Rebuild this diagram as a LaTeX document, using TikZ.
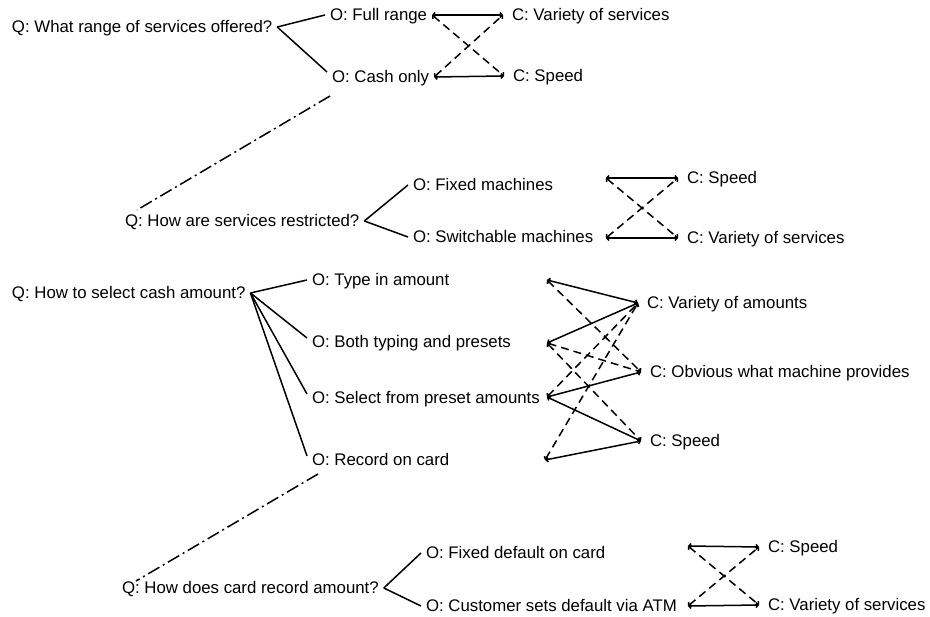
\documentclass[tikz,border=0pt]{standalone}
\usepackage{fontspec}
\setmainfont{Liberation Sans}
\usetikzlibrary{arrows.meta}

\begin{document}
\begin{tikzpicture}[x=1pt, y=-1pt,
  txt/.style={anchor=west, inner sep=3pt, outer sep=2pt, text height=12pt, text depth=0pt, font=\fontsize{16.8pt}{19pt}\selectfont},
  crit/.style={txt, outer sep=6pt},
  branch/.style={line width=1.5pt},
  follow/.style={line width=1.5pt, dash pattern=on 13pt off 4pt on 2pt off 4pt},
  plus/.style={line width=1.5pt, {Straight Barb[length=2pt,width=5pt]}-{Straight Barb[length=2pt,width=5pt]}},
  minus/.style={plus, dash pattern=on 8pt off 5pt}
]
\useasboundingbox (0,0) rectangle (930,617);

\node[txt] (q1) at (7,27) {Q: What range of services offered?};
\node[txt] (full) at (325,15) {O: Full range};
\node[txt] (cash) at (327,77) {O: Cash only};
\node[crit] (var1) at (503,15) {C: Variety of services};
\node[crit] (spd1) at (504,76) {C: Speed};

\node[txt] (q2) at (120,221) {Q: How are services restricted?};
\node[txt] (fix) at (408,185) {O: Fixed machines};
\node[txt] (swi) at (408,237) {O: Switchable machines};
\node[crit] (spd2) at (678,178) {C: Speed};
\node[crit] (var2) at (678,238) {C: Variety of services};
\coordinate (fixR) at (606,178);
\coordinate (swiR) at (606,238);

\node[txt] (q3) at (7,293) {Q: How to select cash amount?};
\node[txt] (typ) at (307,280) {O: Type in amount};
\node[txt] (both) at (307,342) {O: Both typing and presets};
\node[txt] (sel) at (307,398) {O: Select from preset amounts};
\node[txt] (rec) at (307,460) {O: Record on card};
\node[crit] (vam) at (638,303) {C: Variety of amounts};
\node[crit] (obv) at (641,372) {C: Obvious what machine provides};
\node[crit] (spd3) at (641,441) {C: Speed};
\coordinate (typR) at (547,280);
\coordinate (bothR) at (547,343);
\coordinate (selR) at (547,397);
\coordinate (recR) at (545,460);

\node[txt] (q4) at (117,588) {Q: How does card record amount?};
\node[txt] (fdc) at (421,553) {O: Fixed default on card};
\node[txt] (csd) at (421,606) {O: Customer sets default via ATM};
\node[crit] (spd4) at (759,547) {C: Speed};
\node[crit] (var4) at (759,605) {C: Variety of services};
\coordinate (fdcR) at (688,546);
\coordinate (csdR) at (688,606);

\draw[branch] (q1.east) -- (full.west);
\draw[branch] (q1.east) -- ([yshift=5pt]cash.west);
\draw[plus] (full.east) -- (var1.west);
\draw[minus] (full.east) -- (spd1.west);
\draw[minus] (cash.east) -- (var1.west);
\draw[plus] (cash.east) -- (spd1.west);
\draw[follow] ([xshift=3pt,yshift=-8pt]cash.south west) -- ([xshift=17pt]q2.north west);

\draw[branch] (q2.east) -- (fix.west);
\draw[branch] (q2.east) -- (swi.west);
\draw[plus] (fixR) -- (spd2.west);
\draw[minus] (fixR) -- (var2.west);
\draw[minus] (swiR) -- (spd2.west);
\draw[plus] (swiR) -- (var2.west);

\draw[branch] (q3.east) -- (typ.west);
\draw[branch] (q3.east) -- ([yshift=4pt]both.west);
\draw[branch] (q3.east) -- ([yshift=4pt]sel.west);
\draw[branch] (q3.east) -- ([yshift=4pt]rec.west);
\draw[plus] (typR) -- (vam.west);
\draw[minus] (typR) -- (obv.west);
\draw[plus] (bothR) -- (vam.west);
\draw[minus] (bothR) -- (obv.west);
\draw[minus] (bothR) -- (spd3.west);
\draw[minus] (selR) -- (vam.west);
\draw[plus] (selR) -- (obv.west);
\draw[plus] (selR) -- (spd3.west);
\draw[minus] (recR) -- (vam.west);
\draw[plus] (recR) -- (spd3.west);
\draw[follow] ([xshift=11pt,yshift=-3pt]rec.south west) -- ([xshift=19pt,yshift=-4pt]q4.north west);

\draw[branch] (q4.east) -- (fdc.west);
\draw[branch] (q4.east) -- (csd.west);
\draw[plus] (fdcR) -- (spd4.west);
\draw[minus] (fdcR) -- (var4.west);
\draw[minus] (csdR) -- (spd4.west);
\draw[plus] (csdR) -- (var4.west);
\end{tikzpicture}
\end{document}
